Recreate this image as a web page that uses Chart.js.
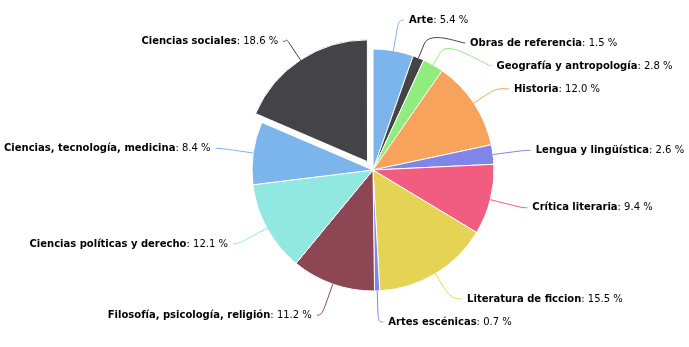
<!DOCTYPE html>
<html>
<head>
<meta charset="utf-8">
<script src="https://cdn.jsdelivr.net/npm/chart.js@4/dist/chart.umd.min.js"></script>
<style>
  html, body { margin: 0; padding: 0; background: #fff; }
  canvas { display: block; }
</style>
</head>
<body>
<canvas id="pieChart" width="689" height="347"></canvas>
<script>
const categories = [
  "Arte", "Obras de referencia", "Geografía y antropología", "Historia",
  "Lengua y lingüística", "Crítica literaria", "Literatura de ficcion",
  "Artes escénicas", "Filosofía, psicología, religión",
  "Ciencias políticas y derecho", "Ciencias, tecnología, medicina",
  "Ciencias sociales"
];
const shares = [5.4, 1.5, 2.8, 12.0, 2.6, 9.4, 15.5, 0.7, 11.2, 12.1, 8.4, 18.6];
const sliceColors = [
  "#7cb5ec", "#434348", "#90ed7d", "#f7a35c", "#8085e9", "#f15c80",
  "#e4d354", "#8085e8", "#8d4653", "#91e8e1", "#7cb5ec", "#434348"
];
const slicedCategory = "Ciencias sociales";

const PIE_RADIUS = 121;
const SLICE_SHIFT = 10;        // pulled-out slice distance in px
const LABEL_DISTANCE = 33;
const CONNECTOR_OFFSET = 15;
const LABEL_GAP = 23;
const LABEL_FONT = "DejaVu Sans";
const LABEL_SIZE = 10;

// arc elements translate by offset / 4
const sliceOffsets = categories.map(c => c === slicedCategory ? SLICE_SHIFT * 4 : 0);

function spreadLabels(items, top, bottom) {
  items.sort((a, b) => a.natural - b.natural);
  items.forEach((it, k) => {
    const prev = k ? items[k - 1].y + LABEL_GAP : top;
    it.y = Math.max(it.natural, prev, top);
  });
  for (let k = items.length - 1; k >= 0; k--) {
    const next = k < items.length - 1 ? items[k + 1].y - LABEL_GAP : bottom;
    items[k].y = Math.min(items[k].y, next, bottom);
  }
  // top and bottom labels keep their natural x
  items.forEach((it, k) => {
    it.yForX = (k === 0 || k === items.length - 1) ? it.natural : it.y;
  });
}

const sliceLabels = {
  id: "sliceLabels",
  afterDatasetsDraw(chart) {
    const ctx = chart.ctx;
    const meta = chart.getDatasetMeta(0);
    const left = [], right = [];

    meta.data.forEach((arc, i) => {
      const p = arc.getProps(["x", "y", "startAngle", "endAngle", "outerRadius"], true);
      const mid = (p.startAngle + p.endAngle) / 2;
      const shift = (arc.options.offset || 0) / 4;
      const ox = p.x + Math.cos(mid) * shift;
      const oy = p.y + Math.sin(mid) * shift;
      const R = p.outerRadius + LABEL_DISTANCE;
      const item = {
        i, cx: p.x, cy: p.y, R,
        left: Math.cos(mid) < 0,
        base: { x: ox + Math.cos(mid) * p.outerRadius, y: oy + Math.sin(mid) * p.outerRadius },
        brk: {
          x: ox + Math.cos(mid) * (p.outerRadius + CONNECTOR_OFFSET),
          y: oy + Math.sin(mid) * (p.outerRadius + CONNECTOR_OFFSET)
        },
        natural: p.y + Math.sin(mid) * R
      };
      (item.left ? left : right).push(item);
    });

    spreadLabels(left, 20, chart.height - 25);
    spreadLabels(right, 20, chart.height - 25);

    ctx.save();
    ctx.textBaseline = "middle";
    [...left, ...right].forEach(it => {
      const dir = it.left ? -1 : 1;
      const dy = it.yForX - it.cy;
      const lx = it.cx + dir * Math.sqrt(Math.max(it.R * it.R - dy * dy, 0));

      ctx.beginPath();
      ctx.strokeStyle = sliceColors[it.i];
      ctx.lineWidth = 1;
      ctx.moveTo(lx + dir * 5, it.y);
      ctx.bezierCurveTo(lx, it.y,
        2 * it.brk.x - it.base.x, 2 * it.brk.y - it.base.y,
        it.brk.x, it.brk.y);
      ctx.lineTo(it.base.x, it.base.y);
      ctx.stroke();

      const name = categories[it.i];
      const value = ": " + shares[it.i].toFixed(1) + " %";
      const boldFont = "bold " + LABEL_SIZE + "px '" + LABEL_FONT + "'";
      const normalFont = LABEL_SIZE + "px '" + LABEL_FONT + "'";
      ctx.fillStyle = "#000";
      ctx.textAlign = "left";
      ctx.font = boldFont;
      const nameW = ctx.measureText(name).width;
      ctx.font = normalFont;
      const valueW = ctx.measureText(value).width;
      const tx = it.left ? lx - 10 - nameW - valueW : lx + 10;
      ctx.font = boldFont;
      ctx.fillText(name, tx, it.y);
      ctx.font = normalFont;
      ctx.fillText(value, tx + nameW, it.y);
    });
    ctx.restore();
  }
};

new Chart(document.getElementById("pieChart"), {
  type: "pie",
  data: {
    labels: categories,
    datasets: [{
      data: shares,
      backgroundColor: sliceColors,
      borderColor: "#ffffff",
      borderWidth: 1,
      offset: sliceOffsets,
      hoverOffset: 0
    }]
  },
  options: {
    responsive: false,
    animation: false,
    events: [],
    radius: PIE_RADIUS,
    layout: { padding: { left: 57, right: 0, top: 0, bottom: 7 } },
    plugins: {
      legend: { display: false },
      tooltip: { enabled: false }
    }
  },
  plugins: [sliceLabels]
});
</script>
</body>
</html>
